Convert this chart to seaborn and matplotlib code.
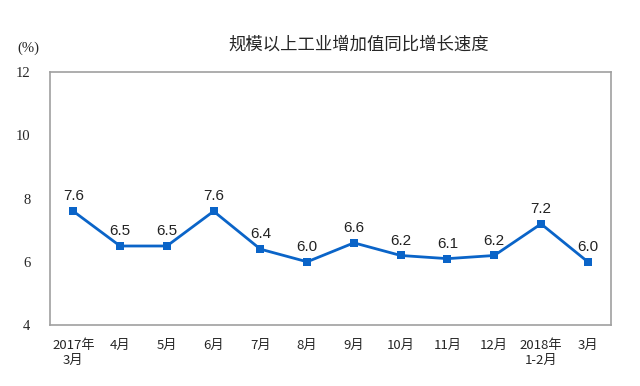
import matplotlib
matplotlib.use('Agg')
import matplotlib.pyplot as plt
import seaborn as sns
import pandas as pd

# 数据
months = ['2017年\n3月', '4月', '5月', '6月', '7月', '8月', '9月',
          '10月', '11月', '12月', '2018年\n1-2月', '3月']
growth = [7.6, 6.5, 6.5, 7.6, 6.4, 6.0, 6.6, 6.2, 6.1, 6.2, 7.2, 6.0]
yticks = [4, 6, 8, 10, 12]

sns.set_style('white')
plt.rcParams['font.family'] = ['Noto Sans CJK SC', 'DejaVu Sans']

df = pd.DataFrame({'pos': range(len(months)), 'val': growth})

fig = plt.figure(figsize=(6.4, 3.86), dpi=100)
ax = fig.add_axes([0.078, 0.158, 0.877, 0.655])

sns.lineplot(data=df, x='pos', y='val', ax=ax, color='#0a64c8', linewidth=2,
             marker='s', markersize=6, markeredgewidth=0)

for x, y in zip(df['pos'], df['val']):
    ax.text(x, y + 0.25, f'{y:.1f}', ha='center', va='bottom', fontsize=11,
            family=['Liberation Sans'], color='#222222')

ax.set_xlim(-0.5, len(months) - 0.5)
ax.set_ylim(4, 12)
ax.set_yticks(yticks)
ax.set_yticklabels([str(t) for t in yticks], family=['Liberation Serif'], fontsize=10.5)
ax.set_xticks([i + 0.5 for i in range(len(months) - 1)])
ax.set_xticklabels([])
ax.set_xticks(range(len(months)), minor=True)
ax.set_xticklabels(months, minor=True, fontsize=9.5, linespacing=1.25,
                   ha='center', multialignment='center')
ax.tick_params(axis='x', which='minor', length=0, pad=10)
ax.tick_params(axis='x', which='major', direction='in', length=4, color='#999999')
ax.tick_params(axis='y', direction='in', length=4, color='#999999', pad=14)
ax.set_xlabel('')
ax.set_ylabel('')

for s in ax.spines.values():
    s.set_color('#a0a0a0')
    s.set_linewidth(1.2)

fig.text(0.044, 0.875, '(%)', ha='center', va='center', fontsize=10.5,
         family=['Liberation Serif'])
fig.text(0.56, 0.885, '规模以上工业增加值同比增长速度', ha='center', va='center',
         fontsize=12.5)

fig.savefig('out.png', dpi=100)
